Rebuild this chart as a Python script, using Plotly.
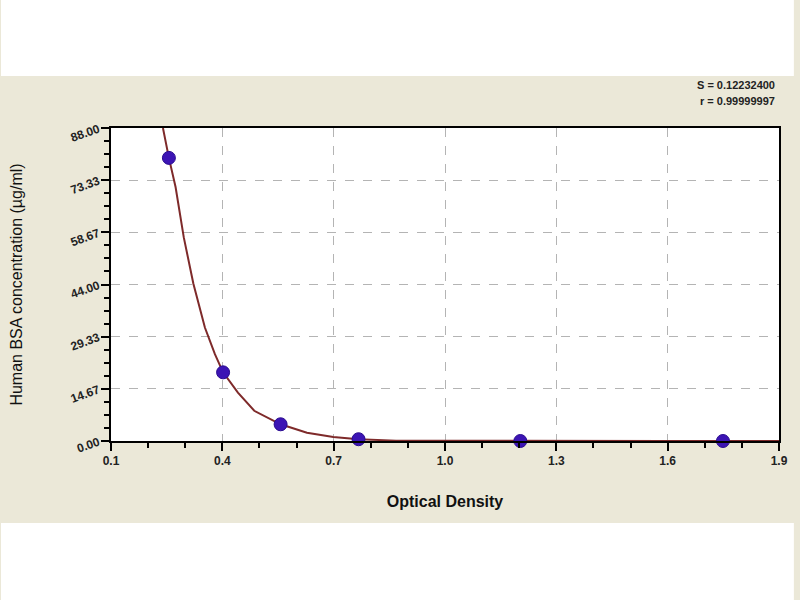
import plotly.graph_objects as go

# Standard points (Optical Density vs concentration)
od_points = [0.256, 0.402, 0.557, 0.767, 1.203, 1.749]
conc_points = [79.6, 19.3, 4.7, 0.5, 0.0, 0.0]

# Fitted curve
curve_od = [0.240, 0.256, 0.274, 0.296, 0.322, 0.353, 0.380, 0.402, 0.442,
            0.486, 0.557, 0.628, 0.699, 0.767, 0.868, 1.2, 1.6, 1.9]
curve_conc = [88.0, 79.6, 71.4, 57.3, 44.2, 31.9, 24.4, 19.3, 13.6,
              8.5, 4.7, 2.3, 1.1, 0.5, 0.1, 0.0, 0.0, 0.0]

x_tickvals = [0.1, 0.4, 0.7, 1.0, 1.3, 1.6, 1.9]
x_ticktext = ["0.1", "0.4", "0.7", "1.0", "1.3", "1.6", "1.9"]
y_tickvals = [0, 14.6667, 29.3333, 44.0, 58.6667, 73.3333, 88.0]
y_ticktext = ["0.00", "14.67", "29.33", "44.00", "58.67", "73.33", "88.00"]

stats_lines = ["S = 0.12232400", "r = 0.99999997"]

fig = go.Figure()
fig.add_trace(go.Scatter(
    x=curve_od, y=curve_conc, mode="lines",
    line=dict(color="#7e2a2a", width=2), hoverinfo="skip", showlegend=False))
fig.add_trace(go.Scatter(
    x=od_points, y=conc_points, mode="markers",
    marker=dict(color="#3c14b4", size=13, symbol="circle",
                line=dict(color="#2a0c90", width=1)),
    cliponaxis=False, showlegend=False))

W, H = 800, 600
L, R, T, B = 111, 15, 128, 159
pw, ph = W - L - R, H - T - B

def px_x(p):
    return (p - L) / pw

def px_y(p):
    return (H - B - p) / ph

# white strips above and below the beige band
fig.add_shape(type="rect", xref="paper", yref="paper",
              x0=px_x(0), x1=px_x(W), y0=px_y(0), y1=px_y(76),
              fillcolor="white", line=dict(width=0), layer="below")
fig.add_shape(type="rect", xref="paper", yref="paper",
              x0=px_x(0), x1=px_x(W), y0=px_y(523), y1=px_y(H),
              fillcolor="white", line=dict(width=0), layer="below")

for i, t in enumerate(stats_lines):
    fig.add_annotation(xref="paper", yref="paper", x=px_x(783), y=px_y(85 + 16 * i),
                       text="<b>" + t + "</b>", showarrow=False, xanchor="right",
                       yanchor="middle",
                       font=dict(family="Liberation Sans, Arial", size=11, color="#222"))

axis_font = dict(family="Liberation Sans, Arial", size=12, color="#222")

fig.update_layout(
    width=W, height=H, autosize=False,
    margin=dict(l=L, r=R, t=T, b=B),
    paper_bgcolor="#ebe8d8", plot_bgcolor="white",
    xaxis=dict(
        range=[0.1, 1.9], tickvals=x_tickvals, ticktext=["<b>%s</b>" % t for t in x_ticktext],
        ticks="outside", ticklen=8, tickwidth=2, tickcolor="black",
        minor=dict(dtick=0.1, tick0=0.1, ticks="outside", ticklen=5, tickwidth=2,
                   tickcolor="black", showgrid=False),
        showline=True, linecolor="black", linewidth=2, mirror=True,
        showgrid=True, gridcolor="#b4b4b4", griddash="dash", gridwidth=1,
        zeroline=False, tickfont=axis_font,
        title=dict(text="<b>Optical Density</b>", standoff=28,
                   font=dict(family="Liberation Sans, Arial", size=16, color="#111")),
    ),
    yaxis=dict(
        range=[0, 88], tickvals=y_tickvals, ticktext=["<b>%s</b>" % t for t in y_ticktext],
        ticks="outside", ticklen=8, tickwidth=2, tickcolor="black", tickangle=-20,
        minor=dict(dtick=88 / 24, tick0=0, ticks="outside", ticklen=5, tickwidth=2,
                   tickcolor="black", showgrid=False),
        showline=True, linecolor="black", linewidth=2, mirror=True,
        showgrid=True, gridcolor="#b4b4b4", griddash="dash", gridwidth=1,
        zeroline=False, tickfont=axis_font,
        title=dict(text="Human BSA concentration (µg/ml)", standoff=42,
                   font=dict(family="Liberation Sans, Arial", size=16, color="#111")),
    ),
)

fig.write_html("out.html", config={"displayModeBar": False, "responsive": False},
               post_script="document.body.style.margin='0';"
                           "document.body.style.overflow='hidden';"
                           "document.documentElement.style.overflow='hidden';")
